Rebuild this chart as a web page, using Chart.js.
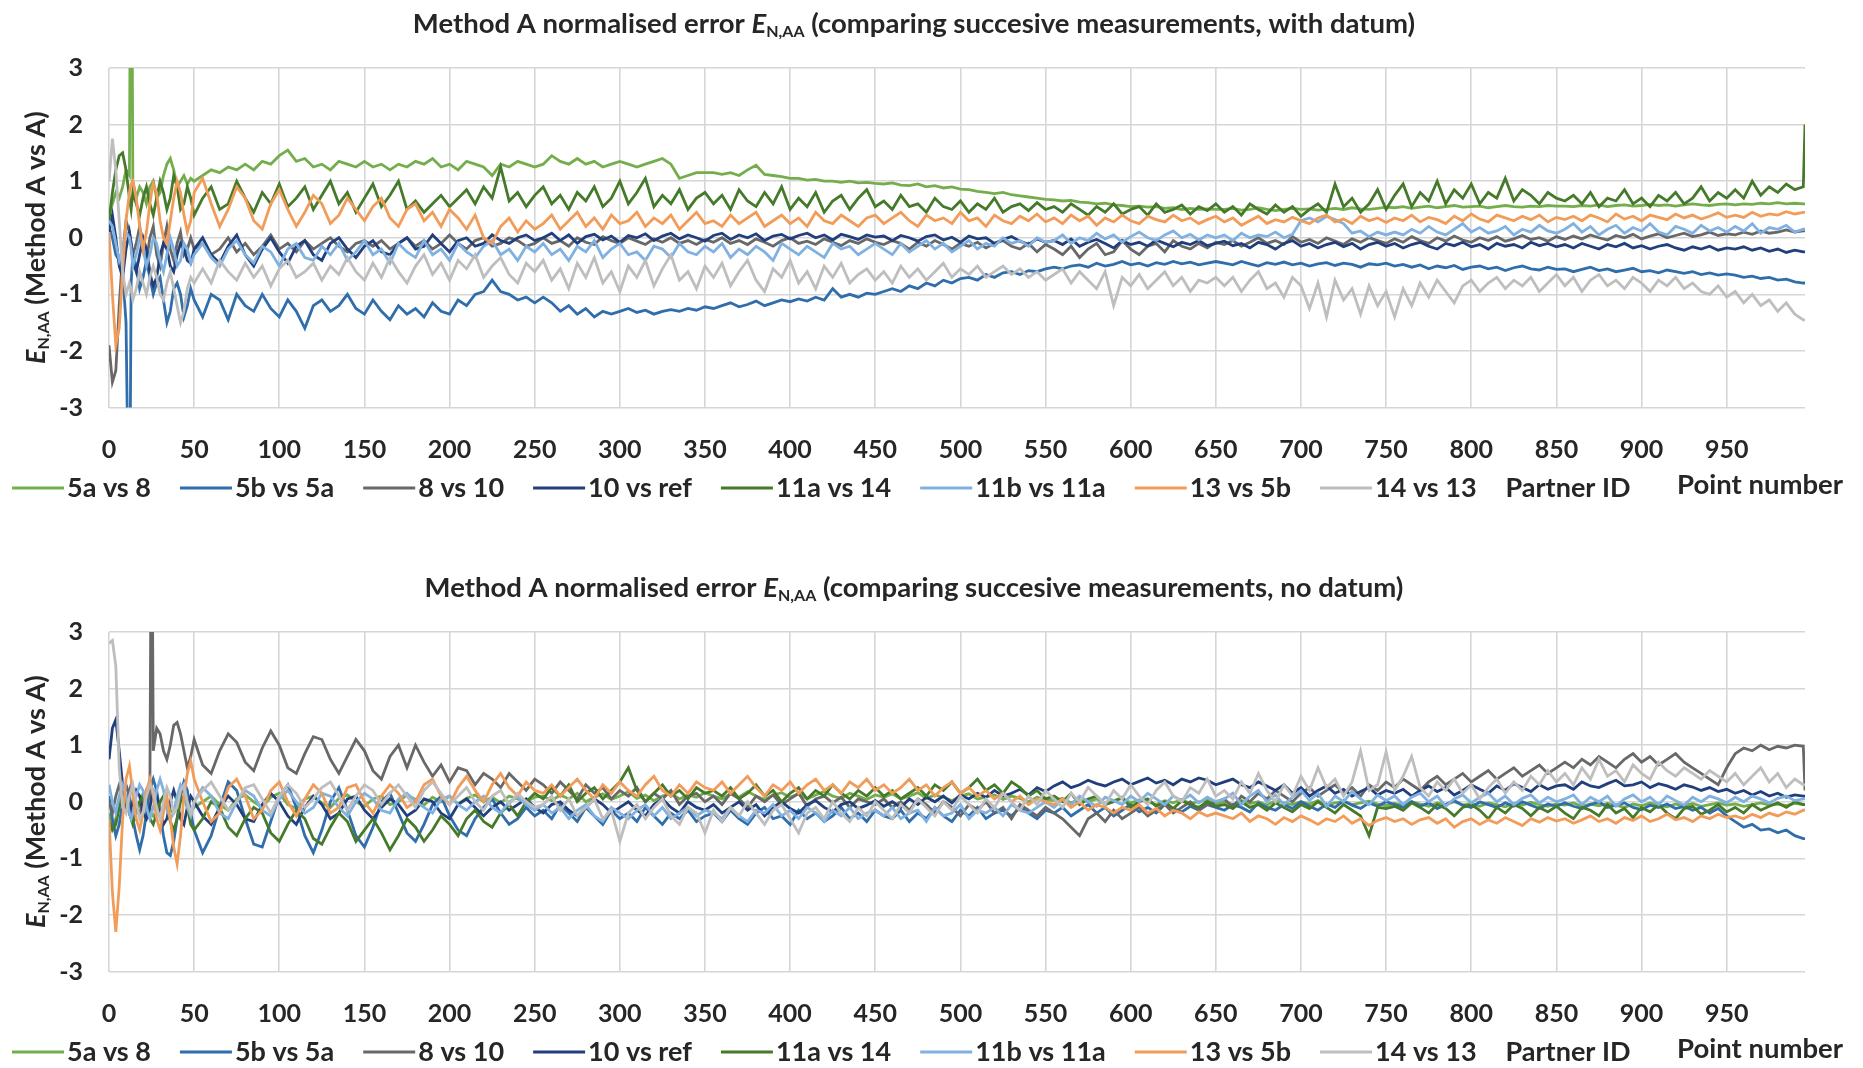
<!DOCTYPE html>
<html>
<head>
<meta charset="utf-8">
<script src="https://cdn.jsdelivr.net/npm/chart.js@4.4.1/dist/chart.umd.min.js"></script>
<style>
  html, body { margin: 0; padding: 0; background: #fff; overflow: hidden; }
  .panel { position: relative; width: 1863px; height: 564px; }
  canvas { display: block; }
</style>
</head>
<body>
<div class="panel"><canvas id="withDatum" width="1863" height="564"></canvas></div>
<div class="panel"><canvas id="noDatum" width="1863" height="564"></canvas></div>
<script>
// Point numbers: dense at the start (where the big swings are), then every 5th point
const pointNumber = [
  0, 2, 4, 6, 8, 10, 12, 13, 14, 16, 18, 20, 22, 24, 25, 26, 28, 30, 32, 34, 36, 38, 40, 42, 44, 46, 48, 50,
  55, 60, 65, 70, 75, 80, 85, 90, 95, 100, 105, 110, 115, 120, 125, 130, 135, 140, 145, 150,
  155, 160, 165, 170, 175, 180, 185, 190, 195, 200, 205, 210, 215, 220, 225, 230, 235, 240, 245, 250,
  255, 260, 265, 270, 275, 280, 285, 290, 295, 300, 305, 310, 315, 320, 325, 330, 335, 340, 345, 350,
  355, 360, 365, 370, 375, 380, 385, 390, 395, 400, 405, 410, 415, 420, 425, 430, 435, 440, 445, 450,
  455, 460, 465, 470, 475, 480, 485, 490, 495, 500, 505, 510, 515, 520, 525, 530, 535, 540, 545, 550,
  555, 560, 565, 570, 575, 580, 585, 590, 595, 600, 605, 610, 615, 620, 625, 630, 635, 640, 645, 650,
  655, 660, 665, 670, 675, 680, 685, 690, 695, 700, 705, 710, 715, 720, 725, 730, 735, 740, 745, 750,
  755, 760, 765, 770, 775, 780, 785, 790, 795, 800, 805, 810, 815, 820, 825, 830, 835, 840, 845, 850,
  855, 860, 865, 870, 875, 880, 885, 890, 895, 900, 905, 910, 915, 920, 925, 930, 935, 940, 945, 950,
  955, 960, 965, 970, 975, 980, 985, 990, 995, 996
];

const partnerIds = ['5a vs 8', '5b vs 5a', '8 vs 10', '10 vs ref', '11a vs 14', '11b vs 11a', '13 vs 5b', '14 vs 13'];
const partnerColours = ['#74ae4c', '#2f6dab', '#686868', '#203f7c', '#457a2a', '#80b1e0', '#f29c5a', '#bebebe'];

const xTickStep = 50;
const yTickStep = 1;

// ---- with datum ----
const withDatum_5a_vs_8 = [
  0.4, 0.6, 0.8, 0.7, 0.9, 1.2, 1.1, 8, 1.0, 0.7, 0.9, 0.8, 0.6, 0.9, 0.95, 1.0, 0.7, 0.8, 1.1, 1.3, 1.4, 1.2, 0.9, 1.0, 1.1, 0.95, 1.05, 1.0,
  1.1, 1.2, 1.15, 1.25, 1.2, 1.3, 1.2, 1.35, 1.3, 1.45, 1.55, 1.35, 1.4, 1.25, 1.3, 1.2, 1.35, 1.3, 1.25, 1.35,
  1.25, 1.3, 1.2, 1.3, 1.25, 1.35, 1.3, 1.4, 1.25, 1.3, 1.2, 1.35, 1.3, 1.25, 1.1, 1.3, 1.25, 1.35, 1.3, 1.25,
  1.3, 1.45, 1.35, 1.3, 1.4, 1.3, 1.35, 1.25, 1.3, 1.35, 1.3, 1.25, 1.3, 1.35, 1.4, 1.3, 1.05, 1.1, 1.15, 1.15,
  1.15, 1.12, 1.15, 1.1, 1.2, 1.28, 1.12, 1.1, 1.08, 1.05, 1.05, 1.02, 1.03, 1.0, 1.0, 0.98, 1.0, 0.97, 0.98, 0.96,
  0.95, 0.97, 0.93, 0.92, 0.95, 0.9, 0.92, 0.88, 0.9, 0.86, 0.85, 0.82, 0.8, 0.78, 0.8, 0.76, 0.74, 0.72, 0.7, 0.68,
  0.67, 0.65, 0.66, 0.63, 0.62, 0.6, 0.61, 0.58, 0.57, 0.55, 0.56, 0.54, 0.55, 0.52, 0.53, 0.5, 0.52, 0.5, 0.51, 0.5,
  0.5, 0.52, 0.49, 0.5, 0.53, 0.5, 0.48, 0.5, 0.52, 0.5, 0.51, 0.49, 0.5, 0.52, 0.5, 0.53, 0.51, 0.5, 0.52, 0.54,
  0.53, 0.55, 0.52, 0.54, 0.56, 0.53, 0.55, 0.57, 0.54, 0.55, 0.56, 0.53, 0.55, 0.57, 0.55, 0.54, 0.56, 0.55, 0.57, 0.56,
  0.56, 0.55, 0.57, 0.56, 0.58, 0.55, 0.57, 0.58, 0.56, 0.57, 0.59, 0.57, 0.58, 0.56, 0.58, 0.6, 0.58, 0.57, 0.59, 0.6,
  0.58, 0.6, 0.59, 0.61, 0.6, 0.62, 0.6, 0.61, 0.6, 0.6
];
const withDatum_5b_vs_5a = [
  0.2, 0.0, -0.3, -0.4, -0.6, -1.5, -6, -0.8, -0.3, -0.5, -0.9, -0.7, -0.4, -0.7, -0.85, -1.0, -0.8, -0.7, -1.1, -1.5, -1.3, -0.9, -0.8, -1.0, -1.4, -1.2, -0.9, -1.1,
  -1.4, -1.0, -1.1, -1.45, -1.0, -1.2, -1.3, -1.0, -1.25, -1.4, -1.1, -1.3, -1.6, -1.2, -1.1, -1.3, -1.2, -1.0, -1.25, -1.35,
  -1.1, -1.3, -1.45, -1.2, -1.35, -1.25, -1.4, -1.15, -1.3, -1.35, -1.1, -1.2, -1.0, -0.95, -0.75, -0.95, -1.0, -1.1, -1.05, -1.15,
  -1.05, -1.15, -1.3, -1.2, -1.35, -1.25, -1.4, -1.3, -1.35, -1.3, -1.25, -1.32, -1.28, -1.35, -1.3, -1.27, -1.3, -1.25, -1.28, -1.22,
  -1.25, -1.2, -1.15, -1.22, -1.18, -1.12, -1.2, -1.15, -1.1, -1.13, -1.08, -1.12, -1.05, -1.1, -0.9, -1.05, -1.0, -1.05, -0.98, -1.0,
  -0.95, -0.9, -0.95, -0.85, -0.9, -0.8, -0.85, -0.75, -0.8, -0.72, -0.7, -0.75, -0.65, -0.7, -0.62, -0.6, -0.65, -0.58, -0.6, -0.55,
  -0.52, -0.55, -0.5, -0.48, -0.52, -0.45, -0.5, -0.47, -0.42, -0.48, -0.45, -0.5, -0.44, -0.47, -0.42, -0.46, -0.43, -0.48, -0.45, -0.42,
  -0.45, -0.48, -0.42, -0.46, -0.5, -0.44, -0.47, -0.43, -0.48, -0.45, -0.5, -0.46, -0.44, -0.49, -0.45, -0.47, -0.52, -0.46, -0.48, -0.45,
  -0.5, -0.47, -0.52, -0.48, -0.55, -0.5, -0.53, -0.49, -0.56, -0.52, -0.5, -0.55, -0.52, -0.58, -0.53, -0.5, -0.55, -0.57, -0.52, -0.56,
  -0.55, -0.6, -0.56, -0.52, -0.58, -0.55, -0.6, -0.57, -0.54, -0.6, -0.58, -0.62, -0.57, -0.6, -0.63, -0.6, -0.65, -0.62, -0.66, -0.64,
  -0.66, -0.7, -0.68, -0.72, -0.7, -0.75, -0.73, -0.78, -0.8, -0.8
];
const withDatum_8_vs_10 = [
  -1.9, -2.55, -2.35, -1.2, -0.3, 0.3, 0.1, -0.1, -0.3, -0.1, 0.2, -0.2, -0.4, 0.0, 0.1, 0.2, -0.3, -0.5, -0.1, 0.2, -0.2, -0.4, -0.1, 0.1, -0.3, -0.2, 0.0, -0.2,
  -0.1, -0.3, -0.2, 0.0, -0.25, -0.1, -0.3, -0.15, 0.05, -0.2, -0.1, -0.25, -0.05, -0.2, -0.1, 0.0, -0.15, -0.25, -0.1, -0.05,
  -0.15, -0.05, -0.2, -0.1, 0.0, -0.15, -0.05, -0.2, -0.1, 0.05, -0.1, -0.2, -0.05, 0.0, -0.15, -0.1, 0.0, -0.05, -0.15, -0.1,
  0.0, -0.1, -0.05, -0.15, 0.0, -0.08, -0.12, 0.02, -0.05, -0.1, 0.0, -0.06, -0.12, -0.02, -0.08, 0.0, -0.1, -0.05, -0.12, -0.03,
  -0.08, 0.0, -0.1, -0.05, -0.12, -0.02, -0.08, -0.15, -0.05, 0.0, -0.1, -0.06, -0.12, -0.02, -0.08, -0.14, -0.05, -0.1, -0.02, -0.08,
  -0.12, -0.05, -0.1, -0.2, -0.08, -0.15, -0.05, -0.12, -0.2, -0.1, -0.15, -0.08, -0.18, -0.1, -0.05, -0.15, -0.2, -0.1, -0.25, -0.12,
  -0.2, -0.3, -0.15, -0.35, -0.2, -0.1, -0.3, -0.25, -0.05, -0.2, -0.3, -0.15, -0.1, -0.25, -0.05, -0.15, -0.2, -0.1, -0.18, -0.08,
  -0.12, -0.05, -0.15, -0.08, 0.0, -0.1, -0.05, -0.12, 0.02, -0.08, -0.03, -0.1, 0.0, -0.06, -0.12, -0.02, -0.08, 0.0, -0.05, -0.1,
  -0.02, -0.08, 0.02, -0.05, -0.1, 0.0, -0.06, 0.03, -0.04, -0.08, 0.0, -0.05, 0.02, -0.06, -0.02, 0.04, -0.03, 0.0, -0.06, 0.02,
  -0.03, 0.03, -0.02, 0.05, 0.0, -0.04, 0.04, 0.0, 0.06, -0.02, 0.03, 0.07, 0.0, 0.04, 0.08, 0.02, 0.05, 0.1, 0.04, 0.07,
  0.05, 0.1, 0.06, 0.12, 0.08, 0.1, 0.14, 0.1, 0.12, 0.12
];
const withDatum_10_vs_ref = [
  0.1, 0.4, 0.0, -0.5, -0.7, -0.2, 0.1, -0.1, -0.4, -0.6, -0.3, 0.0, -0.2, -0.6, -0.75, -0.85, -0.7, -0.3, -0.1, -0.2, -0.5, -0.6, -0.3, -0.1, -0.2, -0.4, -0.45, -0.2,
  0.0, -0.3, -0.45, -0.15, 0.05, -0.3, -0.5, -0.2, 0.0, -0.25, -0.45, -0.15, -0.05, -0.3, -0.4, -0.1, 0.0, -0.2, -0.35, -0.15,
  -0.05, -0.25, -0.3, -0.1, 0.0, -0.2, -0.15, 0.05, -0.1, -0.25, -0.05, 0.0, -0.15, -0.1, 0.05, -0.05, -0.1, 0.0, 0.05, -0.05,
  0.0, 0.08, -0.05, 0.05, -0.1, 0.02, 0.06, -0.04, 0.03, -0.08, 0.04, 0.0, 0.07, -0.05, 0.03, 0.08, -0.02, 0.05, 0.0, -0.06,
  0.04, 0.08, -0.03, 0.05, 0.0, 0.07, -0.05, 0.03, 0.06, -0.02, 0.04, 0.08, 0.0, 0.05, -0.04, 0.06, 0.02, -0.03, 0.05, 0.01,
  0.03, -0.05, 0.04, 0.0, -0.06, 0.02, 0.05, -0.04, 0.01, -0.08, 0.03, -0.02, 0.0, -0.1, -0.03, 0.02, -0.06, -0.12, -0.02, -0.08,
  -0.05, -0.12, -0.02, -0.15, -0.08, -0.03, -0.1, -0.18, -0.05, -0.12, -0.08, -0.15, -0.04, -0.1, -0.16, -0.08, -0.12, -0.05, -0.14, -0.1,
  -0.06, -0.14, -0.1, -0.18, -0.08, -0.12, -0.2, -0.1, -0.05, -0.15, -0.1, -0.18, -0.12, -0.08, -0.16, -0.1, -0.2, -0.12, -0.08, -0.15,
  -0.1, -0.18, -0.12, -0.08, -0.15, -0.2, -0.1, -0.14, -0.08, -0.16, -0.12, -0.2, -0.1, -0.15, -0.12, -0.18, -0.08, -0.14, -0.1, -0.16,
  -0.12, -0.18, -0.1, -0.15, -0.2, -0.12, -0.16, -0.1, -0.18, -0.14, -0.2, -0.15, -0.12, -0.18, -0.22, -0.16, -0.2, -0.15, -0.22, -0.18,
  -0.2, -0.16, -0.22, -0.18, -0.24, -0.2, -0.26, -0.22, -0.25, -0.25
];
const withDatum_11a_vs_14 = [
  0.3, 0.8, 1.2, 1.45, 1.5, 1.2, 0.7, 0.5, 0.8, 0.6, 0.4, 0.7, 0.9, 0.6, 0.5, 0.4, 0.7, 1.0, 0.8, 0.5, 0.7, 1.1, 0.9, 0.5, 0.6, 0.9, 0.7, 0.4,
  0.7, 0.9, 0.5, 0.6, 1.0, 0.7, 0.45, 0.8, 0.6, 0.95, 0.55, 0.7, 0.9, 0.5, 0.75, 1.0, 0.6, 0.8, 0.45, 0.7,
  0.95, 0.55, 0.75, 1.0, 0.5, 0.65, 0.45, 0.6, 0.75, 0.55, 0.7, 0.85, 0.6, 0.9, 0.7, 1.25, 0.65, 0.8, 0.55, 0.75,
  0.9, 0.6, 0.75, 0.5, 0.8, 0.65, 0.9, 0.55, 0.7, 1.0, 0.6, 0.8, 1.05, 0.55, 0.75, 0.6, 0.85, 0.5, 0.7, 0.8,
  0.6, 0.75, 0.5, 0.85, 0.65, 0.55, 0.8, 0.6, 0.9, 0.5, 0.7, 0.55, 0.8, 0.45, 0.65, 0.75, 0.5, 0.7, 0.85, 0.55,
  0.65, 0.5, 0.75, 0.55, 0.6, 0.45, 0.7, 0.55, 0.5, 0.65, 0.45, 0.6, 0.5, 0.7, 0.45, 0.55, 0.6, 0.48, 0.62, 0.5,
  0.55, 0.45, 0.6, 0.5, 0.4, 0.55, 0.45, 0.6, 0.42, 0.5, 0.55, 0.4, 0.6, 0.45, 0.5, 0.58, 0.42, 0.55, 0.48, 0.6,
  0.45, 0.55, 0.4, 0.6, 0.5, 0.42, 0.58, 0.45, 0.55, 0.38, 0.5, 0.6, 0.45, 0.95, 0.55, 0.7, 0.45, 0.6, 0.85, 0.5,
  0.75, 0.95, 0.55, 0.8, 0.65, 1.0, 0.6, 0.85, 0.7, 0.95, 0.6, 0.8, 0.7, 1.05, 0.65, 0.85, 0.75, 0.6, 0.8, 0.7,
  0.65, 0.75, 0.6, 0.8, 0.55, 0.7, 0.65, 0.85, 0.6, 0.7, 0.55, 0.75, 0.65, 0.8, 0.6, 0.7, 0.9, 0.65, 0.8, 0.7,
  0.85, 0.7, 1.0, 0.75, 0.9, 0.8, 0.95, 0.85, 0.9, 2.0
];
const withDatum_11b_vs_11a = [
  0.3, 0.2, -0.1, -0.4, -0.2, 0.1, 0.0, -0.2, -0.5, -0.3, 0.0, -0.2, -0.5, -0.3, -0.15, 0.0, -0.1, -0.4, -0.6, -0.3, 0.0, -0.2, -0.5, -0.4, -0.1, -0.2, -0.45, -0.3,
  -0.1, -0.35, -0.5, -0.2, -0.05, -0.3, -0.45, -0.15, -0.25, -0.5, -0.2, -0.1, -0.35, -0.4, -0.15, -0.3, -0.1, -0.4, -0.25, -0.05,
  -0.3, -0.2, -0.45, -0.1, -0.25, -0.35, -0.05, -0.3, -0.2, -0.4, -0.1, -0.25, -0.35, -0.15, -0.05, -0.3, -0.2, -0.4, -0.15, -0.25,
  -0.1, -0.3, -0.2, -0.4, -0.15, -0.25, -0.05, -0.35, -0.2, -0.1, -0.3, -0.25, -0.4, -0.15, -0.2, -0.35, -0.1, -0.25, -0.3, -0.15,
  -0.25, -0.1, -0.35, -0.2, -0.3, -0.15, -0.25, -0.4, -0.1, -0.2, -0.3, -0.15, -0.25, -0.35, -0.1, -0.2, -0.15, -0.3, -0.2, -0.1,
  -0.2, -0.3, -0.1, -0.25, -0.15, -0.05, -0.2, -0.1, -0.25, -0.15, -0.05, -0.2, -0.1, -0.15, 0.0, -0.1, -0.05, -0.15, 0.0, -0.08,
  -0.05, 0.05, -0.1, 0.0, -0.05, 0.08, -0.02, 0.05, -0.08, 0.02, 0.1, 0.0, -0.05, 0.05, 0.12, 0.0, 0.06, -0.04, 0.05, 0.0,
  0.05, -0.05, 0.08, 0.0, 0.05, 0.02, 0.1, 0.0, 0.06, 0.3, 0.35, 0.28, 0.38, 0.32, 0.25, 0.08, 0.12, 0.02, 0.1, 0.05,
  0.1, 0.05, 0.15, 0.08, 0.2, 0.1, 0.05, 0.15, 0.25, 0.1, 0.18, 0.08, 0.12, 0.2, 0.05, 0.15, 0.1, 0.22, 0.12, 0.08,
  0.15, 0.25, 0.1, 0.2, 0.05, 0.15, 0.22, 0.08, 0.18, 0.12, 0.25, 0.1, 0.05, 0.2, 0.15, 0.08, 0.22, 0.12, 0.18, 0.1,
  0.2, 0.12, 0.25, 0.08, 0.18, 0.15, 0.22, 0.1, 0.15, 0.15
];
const withDatum_13_vs_5b = [
  0.1, -1.0, -1.9, -1.6, -0.6, 0.3, 0.8, 0.95, 1.0, 0.7, 0.2, -0.2, 0.1, 0.6, 0.8, 0.95, 0.8, 0.3, 0.0, -0.1, 0.3, 0.7, 1.0, 0.8, 0.4, 0.1, 0.3, 0.8,
  1.05, 0.6, 0.2, 0.5, 0.9, 0.7, 0.3, 0.15, 0.6, 0.85, 0.5, 0.2, 0.45, 0.75, 0.6, 0.25, 0.4, 0.7, 0.5, 0.3,
  0.55, 0.7, 0.35, 0.2, 0.5, 0.6, 0.3, 0.45, 0.2, 0.5, 0.35, 0.15, 0.4, 0.0, -0.1, 0.2, 0.35, 0.1, 0.3, 0.15,
  0.25, 0.4, 0.15, 0.3, 0.45, 0.2, 0.35, 0.15, 0.4, 0.25, 0.3, 0.45, 0.2, 0.35, 0.25, 0.4, 0.15, 0.3, 0.45, 0.25,
  0.3, 0.2, 0.4, 0.25, 0.35, 0.45, 0.2, 0.3, 0.4, 0.25, 0.35, 0.2, 0.45, 0.3, 0.25, 0.4, 0.3, 0.2, 0.35, 0.4,
  0.25, 0.35, 0.45, 0.3, 0.2, 0.4, 0.3, 0.35, 0.25, 0.45, 0.3, 0.35, 0.2, 0.4, 0.3, 0.25, 0.38, 0.3, 0.42, 0.28,
  0.35, 0.25, 0.4, 0.3, 0.38, 0.22, 0.35, 0.28, 0.4, 0.3, 0.25, 0.38, 0.32, 0.28, 0.4, 0.3, 0.35, 0.25, 0.32, 0.38,
  0.28, 0.35, 0.22, 0.3, 0.38, 0.25, 0.32, 0.28, 0.36, 0.3, 0.25, 0.35, 0.4, 0.28, 0.33, 0.25, 0.38, 0.3, 0.35, 0.27,
  0.35, 0.3, 0.4, 0.28, 0.36, 0.32, 0.25, 0.38, 0.3, 0.42, 0.33, 0.28, 0.4, 0.35, 0.3, 0.38, 0.32, 0.4, 0.28, 0.36,
  0.32, 0.38, 0.3, 0.4, 0.35, 0.28, 0.42, 0.33, 0.38, 0.3, 0.4, 0.36, 0.32, 0.42, 0.35, 0.4, 0.33, 0.38, 0.44, 0.36,
  0.4, 0.36, 0.45, 0.38, 0.42, 0.4, 0.46, 0.42, 0.45, 0.45
];
const withDatum_14_vs_13 = [
  1.0, 1.75, 1.2, 0.3, -0.6, -1.0, -0.8, -0.9, -1.1, -0.9, -0.6, -0.8, -1.0, -0.7, -0.6, -0.5, -0.7, -1.0, -1.1, -0.8, -0.6, -0.9, -1.2, -1.5, -1.3, -0.9, -0.7, -0.8,
  -0.55, -0.8, -0.4, -0.6, -0.75, -0.45, -0.7, -0.5, -0.85, -0.55, -0.4, -0.7, -0.6, -0.45, -0.75, -0.5, -0.65, -0.35, -0.6, -0.75,
  -0.45, -0.7, -0.35, -0.6, -0.8, -0.5, -0.3, -0.65, -0.45, -0.75, -0.4, -0.55, -0.3, -0.7, -0.5, -0.35, -0.65, -0.8, -0.45, -0.6,
  -0.4, -0.75, -0.55, -0.9, -0.45, -0.7, -0.35, -0.8, -0.6, -0.95, -0.5, -0.7, -0.4, -0.85, -0.55, -0.3, -0.75, -0.6, -0.9, -0.5,
  -0.7, -0.45, -0.85, -0.6, -0.4, -0.75, -0.95, -0.55, -0.7, -0.4, -0.8, -0.6, -0.9, -0.5, -0.7, -0.45, -0.8, -0.65, -0.55, -0.75,
  -0.6, -0.8, -0.5, -0.7, -0.55, -0.75, -0.6, -0.45, -0.7, -0.55, -0.65, -0.5, -0.7, -0.6, -0.5, -0.65, -0.55, -0.7, -0.6, -0.75,
  -0.65, -0.55, -0.8, -0.6, -0.75, -0.9, -0.6, -1.2, -0.7, -0.85, -0.65, -0.9, -0.75, -0.6, -0.85, -0.7, -0.95, -0.75, -0.8, -0.7,
  -0.85, -0.7, -0.95, -0.75, -0.6, -0.9, -0.8, -1.05, -0.7, -0.85, -1.25, -0.8, -1.4, -0.75, -1.1, -0.9, -1.35, -0.85, -1.2, -0.95,
  -1.4, -0.9, -1.2, -0.8, -1.05, -0.75, -0.95, -1.15, -0.85, -0.75, -0.95, -0.8, -0.7, -0.9, -0.75, -0.85, -0.7, -0.95, -0.8, -0.65,
  -0.85, -0.7, -0.95, -0.75, -0.65, -0.85, -0.75, -0.9, -0.7, -0.8, -0.95, -0.75, -0.85, -0.7, -0.9, -0.8, -0.95, -1.0, -0.85, -1.05,
  -0.95, -1.15, -1.0, -1.2, -1.1, -1.3, -1.15, -1.35, -1.45, -1.45
];

// ---- no datum ----
const noDatum_5a_vs_8 = [
  -0.2, -0.4, -0.3, 0.0, 0.2, 0.1, -0.1, -0.2, -0.3, -0.2, 0.0, 0.15, 0.1, -0.1, -0.18, -0.25, -0.2, 0.0, 0.1, 0.05, -0.15, -0.2, -0.1, 0.05, 0.1, 0.0, -0.15, -0.1,
  0.0, 0.1, -0.05, -0.15, 0.05, 0.12, 0.0, -0.1, 0.08, 0.15, -0.05, -0.12, 0.05, 0.1, -0.02, -0.1, 0.06, 0.12, 0.0, -0.08,
  0.05, 0.1, -0.05, 0.0, 0.12, 0.04, -0.06, 0.08, 0.0, 0.1, -0.04, 0.06, 0.12, 0.0, 0.08, -0.02, 0.1, 0.05, 0.0, 0.08,
  0.1, 0.02, 0.12, 0.05, 0.15, 0.0, 0.08, 0.14, 0.04, 0.1, 0.18, 0.06, 0.12, 0.02, 0.1, 0.15, 0.05, 0.12, 0.08, 0.16,
  0.1, 0.05, 0.14, 0.08, 0.18, 0.1, 0.04, 0.12, 0.16, 0.08, 0.14, 0.05, 0.12, 0.18, 0.1, 0.06, 0.15, 0.1, 0.04, 0.12,
  0.08, 0.14, 0.05, 0.1, 0.16, 0.06, 0.12, 0.08, 0.02, 0.1, 0.14, 0.05, 0.08, 0.12, 0.04, 0.1, 0.06, 0.0, 0.08, 0.04,
  0.02, 0.06, -0.02, 0.04, 0.0, 0.05, -0.04, 0.02, 0.06, -0.02, 0.03, 0.0, -0.05, 0.02, -0.02, 0.04, -0.03, 0.0, 0.03, -0.04,
  0.0, -0.05, 0.02, -0.03, 0.0, -0.06, 0.02, -0.02, -0.05, 0.0, -0.04, 0.02, -0.06, -0.02, 0.0, -0.05, -0.02, 0.01, -0.04, -0.07,
  -0.03, -0.06, 0.0, -0.04, -0.08, -0.02, -0.05, 0.0, -0.06, -0.03, -0.08, -0.02, -0.05, -0.09, -0.03, -0.06, -0.01, -0.05, -0.08, -0.04,
  -0.06, -0.02, -0.08, -0.04, -0.07, -0.03, -0.06, -0.1, -0.04, -0.07, -0.02, -0.06, -0.09, -0.04, -0.07, -0.03, -0.08, -0.05, -0.02, -0.06,
  -0.04, -0.08, -0.05, -0.02, -0.06, -0.04, -0.07, -0.03, -0.05, -0.05
];
const noDatum_5b_vs_5a = [
  0.1, -0.3, -0.6, -0.4, 0.0, 0.3, 0.1, -0.1, -0.3, -0.6, -0.85, -0.6, -0.2, 0.2, 0.3, 0.4, 0.2, -0.2, -0.6, -0.9, -0.95, -0.7, -0.3, 0.1, 0.35, 0.2, -0.2, -0.5,
  -0.9, -0.6, -0.1, 0.35, 0.2, -0.3, -0.75, -0.8, -0.35, 0.1, 0.3, -0.1, -0.6, -0.9, -0.5, 0.0, 0.25, -0.15, -0.6, -0.8,
  -0.45, 0.0, 0.15, -0.2, -0.55, -0.7, -0.4, -0.05, 0.1, -0.25, -0.5, -0.6, -0.3, -0.1, 0.05, -0.2, -0.4, -0.3, -0.1, -0.25,
  -0.15, -0.3, -0.05, -0.2, -0.35, -0.1, -0.25, -0.4, -0.15, -0.3, -0.2, -0.35, -0.1, -0.25, -0.4, -0.2, -0.3, -0.15, -0.35, -0.25,
  -0.2, -0.35, -0.15, -0.3, -0.4, -0.2, -0.1, -0.3, -0.25, -0.4, -0.15, -0.3, -0.2, -0.35, -0.25, -0.1, -0.3, -0.2, -0.35, -0.15,
  -0.25, -0.3, -0.15, -0.35, -0.2, -0.3, -0.1, -0.25, -0.35, -0.15, -0.25, -0.1, -0.3, -0.2, -0.15, -0.25, -0.1, -0.2, -0.3, -0.15,
  -0.2, -0.1, -0.25, -0.15, -0.05, -0.2, -0.1, -0.25, -0.15, -0.05, -0.18, -0.1, -0.2, -0.05, -0.12, -0.18, -0.08, -0.15, -0.05, -0.1,
  -0.15, -0.05, -0.1, -0.18, -0.02, -0.1, -0.15, -0.05, -0.12, 0.0, -0.08, -0.15, -0.04, -0.1, 0.02, -0.06, -0.12, -0.02, -0.08, 0.0,
  -0.05, -0.1, 0.0, -0.08, -0.02, -0.12, -0.05, 0.02, -0.06, -0.1, 0.0, -0.05, -0.1, -0.02, -0.08, 0.0, -0.06, -0.12, -0.04, -0.08,
  -0.02, -0.08, -0.12, -0.05, 0.0, -0.1, -0.06, -0.02, -0.1, -0.14, -0.06, -0.1, -0.04, -0.12, -0.08, -0.15, -0.1, -0.2, -0.12, -0.25,
  -0.35, -0.45, -0.4, -0.5, -0.48, -0.55, -0.5, -0.6, -0.65, -0.65
];
const noDatum_8_vs_10 = [
  0.0, -0.2, 0.1, 0.3, 0.1, -0.1, 0.2, 0.3, 0.15, -0.1, -0.2, 0.0, 0.2, 0.1, 6.5, 0.9, 1.3, 1.2, 0.9, 0.75, 1.0, 1.35, 1.4, 1.2, 0.9, 0.6, 0.8, 1.1,
  0.65, 0.5, 0.9, 1.2, 1.05, 0.7, 0.55, 0.95, 1.25, 1.0, 0.6, 0.5, 0.85, 1.15, 1.1, 0.75, 0.5, 0.8, 1.1, 0.9,
  0.55, 0.4, 0.8, 1.0, 0.6, 1.0, 0.7, 0.45, 0.65, 0.35, 0.6, 0.55, 0.3, 0.5, 0.4, 0.25, 0.5, 0.35, 0.2, 0.4,
  0.3, 0.15, 0.35, 0.2, 0.05, 0.3, 0.15, 0.25, 0.05, 0.2, 0.1, 0.25, 0.0, 0.15, 0.05, 0.2, -0.05, 0.1, 0.15, 0.0,
  0.1, -0.05, 0.15, 0.05, -0.1, 0.1, 0.0, 0.12, -0.05, 0.05, 0.15, -0.08, 0.05, 0.1, -0.02, 0.08, -0.1, 0.05, 0.0, -0.05,
  0.05, -0.1, 0.0, -0.15, 0.05, -0.05, -0.2, 0.0, -0.1, -0.25, -0.05, -0.15, 0.0, -0.2, -0.1, -0.3, -0.05, -0.15, -0.25, -0.1,
  -0.2, -0.3, -0.45, -0.6, -0.3, -0.2, -0.35, -0.15, -0.3, -0.2, -0.1, -0.25, -0.15, -0.05, -0.2, -0.1, 0.0, -0.15, -0.05, 0.0,
  0.05, -0.1, 0.1, 0.0, 0.15, 0.05, 0.2, 0.1, 0.0, 0.15, 0.25, 0.1, 0.2, 0.3, 0.15, 0.25, 0.1, 0.3, 0.2, 0.35,
  0.25, 0.4, 0.3, 0.2, 0.35, 0.45, 0.3, 0.4, 0.5, 0.35, 0.45, 0.55, 0.4, 0.5, 0.6, 0.45, 0.55, 0.65, 0.5, 0.6,
  0.7, 0.6, 0.75, 0.65, 0.8, 0.7, 0.6, 0.75, 0.85, 0.7, 0.8, 0.65, 0.75, 0.85, 0.7, 0.6, 0.5, 0.4, 0.3, 0.6,
  0.85, 0.95, 0.9, 1.0, 0.92, 0.98, 0.95, 1.0, 0.98, 0.2
];
const noDatum_10_vs_ref = [
  0.75, 1.3, 1.45, 0.9, 0.3, 0.0, -0.2, -0.1, 0.0, 0.2, 0.1, -0.2, -0.3, -0.1, 0.05, 0.2, 0.1, -0.2, -0.4, -0.3, 0.0, 0.2, 0.0, -0.3, -0.4, -0.1, 0.1, 0.0,
  -0.25, -0.4, -0.1, 0.1, -0.05, -0.3, -0.35, -0.05, 0.15, 0.0, -0.25, -0.4, -0.1, 0.1, -0.05, -0.3, -0.2, 0.05, 0.1, -0.15,
  -0.3, -0.1, 0.05, -0.05, -0.25, -0.15, 0.05, 0.0, -0.2, -0.3, -0.05, 0.05, -0.1, -0.25, -0.1, 0.0, -0.15, -0.05, 0.05, -0.1,
  -0.2, -0.05, 0.0, -0.15, -0.25, -0.1, 0.05, -0.05, -0.2, -0.1, 0.0, -0.15, -0.25, -0.05, 0.05, -0.1, -0.2, 0.0, -0.1, -0.15,
  -0.05, -0.2, -0.1, 0.0, -0.15, -0.05, -0.25, -0.1, 0.0, -0.12, -0.2, -0.05, 0.02, -0.1, -0.18, -0.05, 0.0, -0.12, -0.06, 0.02,
  -0.08, 0.0, -0.1, 0.05, -0.05, 0.08, 0.0, 0.1, -0.02, 0.12, 0.05, 0.15, 0.08, 0.2, 0.1, 0.15, 0.22, 0.12, 0.25, 0.18,
  0.28, 0.35, 0.25, 0.3, 0.38, 0.32, 0.28, 0.35, 0.4, 0.3, 0.36, 0.42, 0.33, 0.38, 0.3, 0.4, 0.35, 0.42, 0.38, 0.3,
  0.35, 0.4, 0.3, 0.25, 0.35, 0.28, 0.2, 0.3, 0.15, 0.25, 0.1, 0.2, 0.28, 0.15, 0.22, 0.1, 0.18, 0.25, 0.12, 0.2,
  0.15, 0.22, 0.1, 0.2, 0.28, 0.18, 0.25, 0.12, 0.2, 0.3, 0.22, 0.15, 0.28, 0.2, 0.32, 0.25, 0.18, 0.3, 0.22, 0.28,
  0.3, 0.22, 0.35, 0.28, 0.25, 0.32, 0.38, 0.28, 0.3, 0.35, 0.25, 0.32, 0.28, 0.22, 0.3, 0.26, 0.2, 0.25, 0.18, 0.22,
  0.15, 0.2, 0.12, 0.18, 0.1, 0.15, 0.08, 0.12, 0.1, 0.1
];
const noDatum_11a_vs_14 = [
  -0.3, -0.5, -0.4, -0.1, 0.1, 0.0, -0.2, -0.3, -0.4, -0.2, 0.0, 0.1, -0.1, -0.3, -0.35, -0.4, -0.2, 0.0, 0.1, -0.1, -0.35, -0.5, -0.3, 0.0, 0.1, -0.1, -0.4, -0.5,
  -0.3, 0.0, -0.1, -0.45, -0.6, -0.3, -0.1, -0.2, -0.55, -0.7, -0.4, -0.15, -0.3, -0.65, -0.75, -0.45, -0.2, -0.35, -0.7, -0.5,
  -0.3, -0.55, -0.85, -0.6, -0.3, -0.45, -0.7, -0.5, -0.25, -0.4, -0.6, -0.3, -0.15, -0.35, -0.45, -0.2, -0.05, -0.25, 0.0, 0.15,
  0.05, 0.25, 0.1, 0.3, 0.0, 0.15, 0.25, 0.05, 0.2, 0.35, 0.6, 0.2, 0.0, 0.15, 0.3, 0.1, 0.2, 0.05, 0.25, 0.15,
  0.2, 0.1, 0.25, 0.05, 0.15, 0.3, 0.1, 0.2, 0.0, 0.15, 0.25, 0.05, 0.2, 0.1, 0.3, 0.15, 0.05, 0.2, 0.1, 0.25,
  0.1, 0.2, 0.05, 0.15, 0.25, 0.1, 0.3, 0.2, 0.35, 0.15, 0.25, 0.4, 0.2, 0.3, 0.15, 0.35, 0.25, 0.1, 0.2, 0.05,
  0.1, 0.0, 0.15, -0.05, 0.05, 0.1, -0.05, 0.0, 0.08, -0.1, 0.0, 0.05, -0.08, 0.0, -0.12, 0.02, -0.05, -0.1, 0.0, -0.08,
  -0.05, -0.12, 0.0, -0.1, -0.05, -0.15, -0.02, -0.1, -0.18, -0.05, -0.12, 0.0, -0.1, -0.2, -0.05, -0.15, -0.25, -0.6, -0.1, -0.12,
  -0.08, -0.15, -0.02, -0.1, -0.2, -0.05, -0.12, -0.25, -0.1, -0.05, -0.15, -0.3, -0.1, -0.2, -0.05, -0.12, -0.25, -0.1, -0.18, -0.08,
  -0.2, -0.3, -0.1, -0.15, -0.25, -0.05, -0.2, -0.12, -0.28, -0.1, -0.18, -0.05, -0.2, -0.3, -0.12, -0.08, -0.22, -0.15, -0.05, -0.18,
  -0.1, -0.2, -0.05, -0.15, -0.08, -0.02, -0.1, 0.0, -0.05, -0.05
];
const noDatum_11b_vs_11a = [
  0.3, 0.0, -0.2, 0.1, 0.3, 0.1, -0.2, -0.3, -0.2, 0.1, 0.3, 0.2, -0.1, -0.3, -0.2, -0.1, 0.2, 0.4, 0.2, -0.1, -0.3, -0.2, 0.1, 0.3, 0.2, -0.1, -0.25, 0.0,
  0.25, 0.1, -0.2, -0.3, 0.0, 0.2, 0.1, -0.15, -0.25, 0.05, 0.2, 0.0, -0.2, -0.1, 0.15, 0.1, -0.1, -0.25, 0.0, 0.15,
  0.05, -0.15, -0.2, 0.05, 0.15, 0.0, -0.1, -0.2, 0.05, 0.1, -0.05, -0.15, 0.0, 0.1, -0.1, -0.2, 0.0, 0.08, -0.05, -0.15,
  -0.05, -0.2, -0.1, -0.3, -0.15, -0.05, -0.25, -0.35, -0.1, -0.2, -0.3, -0.15, -0.05, -0.25, -0.1, -0.3, -0.2, -0.1, -0.25, -0.15,
  -0.2, -0.3, -0.1, -0.25, -0.35, -0.15, -0.2, -0.05, -0.25, -0.15, -0.3, -0.1, -0.2, -0.35, -0.15, -0.25, -0.1, -0.3, -0.2, -0.15,
  -0.25, -0.1, -0.3, -0.2, -0.15, -0.35, -0.1, -0.25, -0.2, -0.05, -0.3, -0.15, -0.2, -0.1, -0.25, -0.05, -0.15, -0.2, -0.1, 0.0,
  -0.1, 0.05, -0.05, 0.1, 0.0, -0.08, 0.08, 0.02, -0.05, 0.1, 0.0, 0.15, 0.05, -0.05, 0.1, 0.02, 0.12, -0.02, 0.08, 0.0,
  0.05, 0.15, -0.05, 0.1, 0.2, 0.0, 0.12, -0.05, 0.08, 0.2, 0.02, 0.15, -0.08, 0.1, 0.0, 0.18, 0.05, -0.05, 0.12, 0.02,
  0.1, -0.05, 0.08, 0.15, 0.0, 0.1, -0.08, 0.05, 0.12, -0.02, 0.08, 0.15, 0.0, 0.1, -0.05, 0.06, 0.12, -0.02, 0.08, 0.0,
  0.05, 0.12, -0.05, 0.08, 0.0, 0.1, -0.08, 0.05, 0.12, 0.0, 0.08, -0.05, 0.1, 0.02, -0.06, 0.08, 0.0, 0.1, 0.05, -0.02,
  0.08, 0.0, 0.1, 0.05, -0.02, 0.06, 0.1, 0.02, 0.05, 0.05
];
const noDatum_13_vs_5b = [
  -0.3, -1.6, -2.3, -1.5, -0.3, 0.4, 0.63, 0.4, 0.1, -0.3, -0.5, -0.2, 0.2, 0.4, 0.25, 0.1, -0.3, -0.5, -0.2, 0.1, -0.3, -0.8, -1.1, -0.6, 0.1, 0.5, 0.72, 0.4,
  0.0, -0.35, -0.2, 0.25, 0.4, 0.1, -0.3, -0.15, 0.2, 0.35, 0.0, -0.25, 0.05, 0.3, 0.15, -0.2, -0.1, 0.25, 0.3, 0.0,
  -0.2, 0.1, 0.3, 0.15, -0.1, 0.0, 0.3, 0.4, 0.1, -0.05, 0.25, 0.45, 0.2, 0.0, 0.3, 0.5, 0.25, 0.1, 0.35, 0.2,
  0.15, 0.3, 0.1, 0.25, 0.4, 0.2, 0.05, 0.3, 0.15, 0.35, 0.2, 0.1, 0.3, 0.45, 0.2, 0.1, 0.3, 0.15, 0.35, 0.25,
  0.2, 0.35, 0.15, 0.3, 0.45, 0.25, 0.1, 0.3, 0.2, 0.35, 0.15, 0.3, 0.4, 0.2, 0.3, 0.15, 0.35, 0.25, 0.4, 0.2,
  0.3, 0.15, 0.25, 0.4, 0.2, 0.3, 0.1, 0.25, 0.35, 0.15, 0.25, 0.1, 0.2, 0.05, 0.15, 0.0, 0.1, -0.05, 0.05, 0.0,
  -0.05, 0.05, -0.1, 0.0, -0.15, -0.05, -0.1, -0.2, -0.1, -0.15, -0.05, -0.2, -0.12, -0.25, -0.15, -0.2, -0.3, -0.18, -0.25, -0.2,
  -0.25, -0.3, -0.2, -0.35, -0.25, -0.3, -0.4, -0.28, -0.35, -0.25, -0.32, -0.4, -0.3, -0.35, -0.25, -0.38, -0.3, -0.42, -0.33, -0.28,
  -0.35, -0.3, -0.4, -0.32, -0.28, -0.38, -0.3, -0.45, -0.35, -0.3, -0.4, -0.32, -0.38, -0.28, -0.35, -0.42, -0.3, -0.36, -0.28, -0.34,
  -0.3, -0.38, -0.32, -0.25, -0.35, -0.3, -0.38, -0.28, -0.33, -0.25, -0.35, -0.3, -0.22, -0.32, -0.28, -0.35, -0.25, -0.3, -0.22, -0.28,
  -0.25, -0.3, -0.22, -0.28, -0.2, -0.25, -0.18, -0.22, -0.15, -0.15
];
const noDatum_14_vs_13 = [
  2.8, 2.85, 2.4, 0.6, -0.1, -0.2, 0.1, 0.2, 0.3, 0.0, -0.3, -0.2, 0.1, 0.3, 0.25, 0.2, -0.1, -0.3, 0.0, 0.25, 0.1, -0.2, -0.1, 0.2, 0.3, 0.0, -0.2, 0.0,
  0.2, 0.35, 0.1, -0.15, 0.0, 0.25, 0.3, 0.05, -0.2, 0.1, 0.3, 0.15, -0.1, 0.05, 0.25, 0.35, 0.1, -0.15, 0.1, 0.3,
  0.2, -0.05, 0.15, 0.3, 0.1, -0.1, 0.2, 0.35, 0.15, -0.05, 0.1, 0.25, 0.0, -0.15, 0.1, 0.2, -0.05, 0.15, 0.0, -0.1,
  -0.05, 0.1, -0.15, 0.05, -0.25, -0.1, 0.05, -0.3, -0.15, -0.7, -0.2, -0.05, -0.3, -0.1, 0.05, -0.25, -0.4, -0.1, -0.2, -0.55,
  -0.15, -0.35, -0.1, -0.25, 0.0, -0.2, -0.4, -0.15, -0.05, -0.3, -0.55, -0.2, -0.1, -0.3, 0.0, -0.2, -0.35, -0.1, -0.25, 0.0,
  -0.15, -0.3, -0.05, -0.2, 0.05, -0.1, -0.25, 0.0, -0.15, 0.1, -0.05, -0.2, 0.05, -0.1, 0.15, 0.0, -0.15, 0.1, -0.05, 0.2,
  0.05, -0.1, 0.15, 0.0, 0.25, 0.1, -0.05, 0.2, 0.05, 0.3, 0.1, -0.05, 0.2, 0.35, 0.1, 0.0, 0.25, 0.15, 0.4, 0.1,
  0.2, 0.05, 0.35, 0.15, 0.5, 0.2, 0.0, 0.3, 0.1, 0.45, 0.2, 0.6, 0.25, 0.4, 0.1, 0.35, 0.9, 0.2, 0.3, 0.88,
  0.2, 0.45, 0.8, 0.25, 0.1, 0.35, 0.2, 0.4, 0.15, 0.3, 0.05, 0.25, 0.4, 0.15, 0.35, 0.2, 0.45, 0.3, 0.55, 0.35,
  0.5, 0.3, 0.6, 0.4, 0.75, 0.45, 0.55, 0.35, 0.65, 0.5, 0.4, 0.7, 0.55, 0.45, 0.6, 0.5, 0.4, 0.55, 0.45, 0.35,
  0.5, 0.3, 0.45, 0.6, 0.35, 0.5, 0.25, 0.4, 0.3, 0.3
];

const withDatumSeries = [withDatum_5a_vs_8, withDatum_5b_vs_5a, withDatum_8_vs_10, withDatum_10_vs_ref,
  withDatum_11a_vs_14, withDatum_11b_vs_11a, withDatum_13_vs_5b, withDatum_14_vs_13];
const noDatumSeries = [noDatum_5a_vs_8, noDatum_5b_vs_5a, noDatum_8_vs_10, noDatum_10_vs_ref,
  noDatum_11a_vs_14, noDatum_11b_vs_11a, noDatum_13_vs_5b, noDatum_14_vs_13];

withDatumSeries.concat(noDatumSeries).forEach((s, i) => {
  if (s.length !== pointNumber.length) throw new Error('series ' + i + ' has ' + s.length + ' values, expected ' + pointNumber.length);
});

const FONT = 'Lato, "DejaVu Sans", sans-serif';
const TEXT_COLOUR = '#262626';
const GRID_COLOUR = '#d6d6d6';

// writes a run of text pieces (regular / italic / subscript) centred on x
function drawRich(ctx, parts, x, y) {
  let total = 0;
  parts.forEach(p => { ctx.font = p.font; p.w = ctx.measureText(p.text).width; total += p.w; });
  let cx = x - total / 2;
  parts.forEach(p => {
    ctx.font = p.font;
    ctx.fillText(p.text, cx, y + (p.dy || 0));
    cx += p.w;
  });
}

function normErrParts(size) {
  return [
    { text: 'E', font: 'italic bold ' + size + 'px ' + FONT },
    { text: 'N,AA', font: 'bold ' + Math.round(size * 0.58) + 'px ' + FONT, dy: size * 0.28 }
  ];
}

// title, rotated y-axis title, legend and axis caption
const panelDecor = {
  id: 'panelDecor',
  afterDraw(chart, args, opts) {
    const ctx = chart.ctx;
    ctx.save();
    ctx.fillStyle = TEXT_COLOUR;
    ctx.textBaseline = 'middle';
    ctx.textAlign = 'left';

    const titleSize = 27.5;
    drawRich(ctx, [
      { text: 'Method A normalised error ', font: 'bold ' + titleSize + 'px ' + FONT },
      ...normErrParts(titleSize),
      { text: ' (comparing succesive measurements, ' + opts.tail + ')', font: 'bold ' + titleSize + 'px ' + FONT }
    ], 914, 24);

    const area = chart.chartArea;
    const axisSize = 27;
    ctx.save();
    ctx.translate(36, (area.top + area.bottom) / 2);
    ctx.rotate(-Math.PI / 2);
    drawRich(ctx, [
      ...normErrParts(axisSize),
      { text: ' (Method A vs A)', font: 'bold ' + axisSize + 'px ' + FONT }
    ], 0, 0);
    ctx.restore();

    // legend row
    const legendY = 488;
    let lx = 12;
    ctx.font = 'bold 27px ' + FONT;
    chart.data.datasets.forEach(ds => {
      ctx.strokeStyle = ds.borderColor;
      ctx.lineWidth = 3;
      ctx.beginPath();
      ctx.moveTo(lx, legendY);
      ctx.lineTo(lx + 52, legendY);
      ctx.stroke();
      ctx.fillText(ds.label, lx + 55, legendY);
      lx += 55 + ctx.measureText(ds.label).width + 29;
    });
    ctx.fillText('Partner ID', lx, legendY);

    ctx.textAlign = 'right';
    ctx.font = 'bold 27.5px ' + FONT;
    ctx.fillText('Point number', 1843, 485);
    ctx.restore();
  }
};

function buildPanel(canvasId, tail, series) {
  const datasets = series.map((ys, i) => ({
    label: partnerIds[i],
    data: pointNumber.map((x, k) => ({ x: x, y: ys[k] })),
    borderColor: partnerColours[i],
    backgroundColor: partnerColours[i],
    borderWidth: 2.8,
    pointRadius: 0,
    tension: 0,
    order: series.length - i   // later partners drawn on top
  }));

  const tickFont = { family: FONT, size: 25, weight: 'bold' };

  return new Chart(document.getElementById(canvasId), {
    type: 'line',
    data: { datasets },
    plugins: [panelDecor],
    options: {
      responsive: false,
      animation: false,
      events: [],
      layout: { padding: { left: 0, right: 58, top: 68, bottom: 96.5 } },
      scales: {
        x: {
          type: 'linear',
          min: 0,
          max: 996,
          afterFit: s => { s.height = 60; },
          grid: { color: GRID_COLOUR, lineWidth: 1.6, drawTicks: false },
          border: { display: false },
          ticks: { stepSize: xTickStep, includeBounds: false, autoSkip: false, maxRotation: 0,
                   padding: 27, color: TEXT_COLOUR, font: tickFont }
        },
        y: {
          min: -3,
          max: 3,
          afterFit: s => { s.width = 109; },
          grid: { color: GRID_COLOUR, lineWidth: 1.6, drawTicks: false },
          border: { display: false },
          ticks: { stepSize: yTickStep, padding: 26, color: TEXT_COLOUR, font: tickFont }
        }
      },
      plugins: {
        legend: { display: false },
        title: { display: false },
        tooltip: { enabled: false },
        panelDecor: { tail: tail }
      }
    }
  });
}

buildPanel('withDatum', 'with datum', withDatumSeries);
buildPanel('noDatum', 'no datum', noDatumSeries);
</script>
</body>
</html>
